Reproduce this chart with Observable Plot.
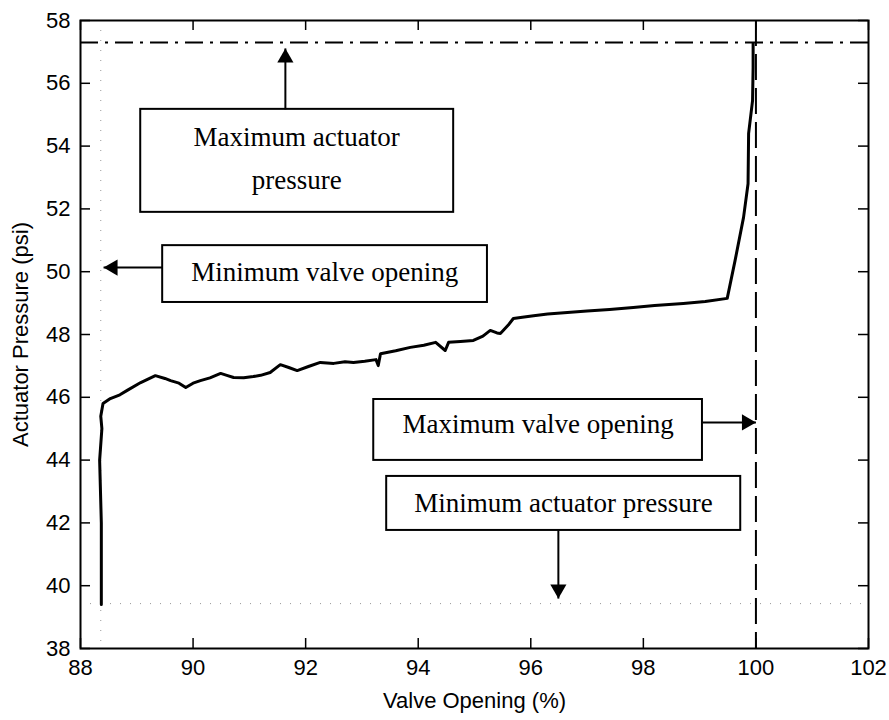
<!DOCTYPE html>
<html>
<head>
<meta charset="utf-8">
<script src="https://cdn.jsdelivr.net/npm/d3@7"></script>
<script src="https://cdn.jsdelivr.net/npm/@observablehq/plot@0.6"></script>
<style>
  html, body { margin: 0; padding: 0; background: #fff; }
  #chart { width: 889px; height: 720px; }
</style>
</head>
<body>
<div id="chart"></div>
<script>
// ---- data ----
const valveOpening = [88.37, 88.37, 88.34, 88.38, 88.36, 88.40, 88.53, 88.70, 88.83, 89.07,
  89.20, 89.33, 89.50, 89.60, 89.75, 89.87, 90.00, 90.13, 90.30, 90.49,
  90.60, 90.72, 90.90, 91.07, 91.20, 91.37, 91.55, 91.70, 91.85, 92.05,
  92.26, 92.50, 92.70, 92.85, 93.05, 93.25, 93.29, 93.33, 93.60, 93.86,
  94.10, 94.31, 94.48, 94.54, 94.75, 94.98, 95.15, 95.28, 95.40, 95.46,
  95.60, 95.69, 95.85, 96.05, 96.30, 96.65, 97.00, 97.40, 97.82, 98.20,
  98.71, 99.10, 99.49, 99.63, 99.78, 99.86, 99.87, 99.94, 99.95, 99.95];
const actuatorPressure = [39.40, 42.00, 44.00, 45.00, 45.40, 45.80, 45.96, 46.08, 46.22, 46.47,
  46.58, 46.69, 46.60, 46.53, 46.45, 46.31, 46.45, 46.53, 46.62, 46.76,
  46.70, 46.63, 46.62, 46.66, 46.70, 46.79, 47.04, 46.95, 46.85, 46.98,
  47.11, 47.08, 47.13, 47.11, 47.15, 47.20, 47.01, 47.39, 47.48, 47.59,
  47.66, 47.75, 47.49, 47.75, 47.78, 47.81, 47.95, 48.13, 48.05, 48.03,
  48.30, 48.51, 48.55, 48.60, 48.65, 48.70, 48.75, 48.80, 48.86, 48.92,
  48.99, 49.05, 49.15, 50.36, 51.73, 52.80, 54.40, 55.45, 56.50, 57.27];

const xTicks = [88, 90, 92, 94, 96, 98, 100, 102];
const yTicks = [38, 40, 42, 44, 46, 48, 50, 52, 54, 56, 58];

const maxPressure = 57.3;   // dash-dot line
const maxOpening = 100;     // dashed line
const minOpening = 88.36;   // faint dotted line
const minPressure = 39.43;  // faint dotted line

// annotation boxes (data units)
const boxLabels = ["Maximum actuator\npressure", "Minimum valve opening", "Maximum valve opening", "Minimum actuator pressure"];
const boxX1 = [89.07, 89.46, 93.21, 93.44];
const boxX2 = [94.63, 95.23, 99.05, 99.73];
const boxY1 = [51.89, 49.02, 43.99, 41.76];
const boxY2 = [55.17, 50.83, 45.93, 43.48];
const labelX = [91.84, 92.34, 96.13, 96.58];
const labelY = [53.75, 50.14, 45.29, 42.78];

// arrows: shaft start -> tip, direction
const arrowX1 = [91.64, 89.46, 99.05, 96.49];
const arrowY1 = [55.17, 50.13, 45.20, 41.76];
const arrowX2 = [91.64, 88.41, 100.0, 96.49];
const arrowY2 = [57.11, 50.13, 45.20, 39.59];
const arrowDir = ["up", "left", "right", "down"];

// ---- build tables ----
const curve = valveOpening.map((v, i) => ({x: v, y: actuatorPressure[i]}));
const boxes = boxLabels.map((t, i) => ({text: t, x1: boxX1[i], x2: boxX2[i], y1: boxY1[i], y2: boxY2[i], tx: labelX[i], ty: labelY[i]}));
const arrows = arrowDir.map((d, i) => ({dir: d, x1: arrowX1[i], y1: arrowY1[i], x2: arrowX2[i], y2: arrowY2[i]}));

const headOff = 9.33;
const dirSpec = {
  up: {rotate: 0, dx: 0, dy: headOff},
  down: {rotate: 180, dx: 0, dy: -headOff},
  left: {rotate: -90, dx: headOff, dy: 0},
  right: {rotate: 90, dx: -headOff, dy: 0}
};
const headMarks = arrows.map(a => Plot.dot([a], {
  x: "x2", y: "y2", symbol: "triangle", r: 6, fill: "black", stroke: "none",
  rotate: dirSpec[a.dir].rotate, dx: dirSpec[a.dir].dx, dy: dirSpec[a.dir].dy
}));

const W = 889, H = 720, mL = 80, mR = 21, mT = 20, mB = 72;
const innerW = W - mL - mR, innerH = H - mT - mB;
const serif = "'Liberation Serif', 'Times New Roman', Times, serif";

const chart = Plot.plot({
  width: W, height: H,
  marginLeft: mL, marginRight: mR, marginTop: mT, marginBottom: mB,
  x: {domain: [88, 102]},
  y: {domain: [38, 58]},
  style: {fontFamily: "'Liberation Sans', Arial, sans-serif", fontSize: "22px", color: "black", background: "white"},
  marks: [
    // faint minimum lines
    Plot.ruleX([minOpening], {stroke: "#999", strokeWidth: 1, strokeDasharray: "1,9"}),
    Plot.ruleY([minPressure], {stroke: "#999", strokeWidth: 1, strokeDasharray: "1,9"}),
    // maximum lines
    Plot.ruleY([maxPressure], {stroke: "black", strokeWidth: 2, strokeDasharray: "18,7,3,7"}),
    Plot.ruleX([maxOpening], {stroke: "black", strokeWidth: 2, strokeDasharray: "26,8"}),
    // curve
    Plot.line(curve, {x: "x", y: "y", stroke: "black", strokeWidth: 3, strokeLinejoin: "round"}),
    // boxes
    Plot.rect(boxes, {x1: "x1", x2: "x2", y1: "y1", y2: "y2", fill: "white", stroke: "black", strokeWidth: 2}),
    Plot.text(boxes, {x: "tx", y: "ty", text: "text", fontFamily: serif, fontSize: 27, lineHeight: 1.6, fill: "black"}),
    // arrow shafts and heads
    Plot.link(arrows, {x1: "x1", y1: "y1", x2: "x2", y2: "y2", stroke: "black", strokeWidth: 2}),
    ...headMarks,
    // inward ticks on all four sides
    Plot.tickX(xTicks, {x: d => d, insetTop: innerH - 10, stroke: "black", strokeWidth: 1.5}),
    Plot.tickX(xTicks, {x: d => d, insetBottom: innerH - 10, stroke: "black", strokeWidth: 1.5}),
    Plot.tickY(yTicks, {y: d => d, insetRight: innerW - 10, stroke: "black", strokeWidth: 1.5}),
    Plot.tickY(yTicks, {y: d => d, insetLeft: innerW - 10, stroke: "black", strokeWidth: 1.5}),
    // axes
    Plot.axisX(xTicks, {tickSize: 0, tickPadding: 11, label: "Valve Opening (%)", labelArrow: "none", labelAnchor: "center", labelOffset: 59}),
    Plot.axisY(yTicks, {tickSize: 0, tickPadding: 10, label: "Actuator Pressure (psi)", labelArrow: "none", labelAnchor: "center", labelOffset: 68}),
    Plot.frame({stroke: "black", strokeWidth: 2})
  ]
});
document.getElementById("chart").appendChild(chart);
</script>
</body>
</html>
